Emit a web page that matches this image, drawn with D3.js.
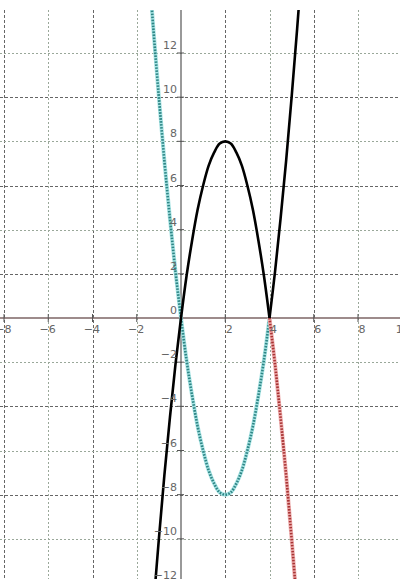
<!DOCTYPE html>
<html>
<head>
<meta charset="utf-8">
<script src="https://cdn.jsdelivr.net/npm/d3@7"></script>
<style>
html,body{margin:0;padding:0;background:#fff;}
svg{display:block;}
</style>
</head>
<body>
<svg id="chart" width="400" height="579"></svg>
<script>
// ---- data ----
const xTicks = [-8, -6, -4, -2, 0, 2, 4, 6, 8, 10];
const yTicks = [12, 10, 8, 6, 4, 2, 0, -2, -4, -6, -8, -10, -12];

// black solid curve, left branch (to the cusp at x=4)
const blackLeftX = [-1.25, -1, -0.75, -0.5, -0.25, 0, 0.25, 0.5, 0.75, 1, 1.25, 1.5, 1.75, 2, 2.25, 2.5, 2.75, 3, 3.25, 3.5, 3.75, 4];
const blackLeftY = [-13.1, -10, -7.1, -4.5, -2.1, 0, 1.9, 3.5, 4.9, 6, 6.9, 7.5, 7.9, 8, 7.9, 7.5, 6.9, 6, 4.9, 3.5, 1.9, 0];
// black solid curve, right branch
const blackRightX = [4, 4.25, 4.5, 4.75, 5, 5.25, 5.5];
const blackRightY = [0, 2.1, 4.5, 7.1, 10, 13.1, 16.5];
// teal dotted curve
const tealX = [-1.5, -1.25, -1, -0.75, -0.5, -0.25, 0, 0.25, 0.5, 0.75, 1, 1.25, 1.5, 1.75, 2, 2.25, 2.5, 2.75, 3, 3.25, 3.5, 3.75, 4];
const tealY = [16.5, 13.1, 10, 7.1, 4.5, 2.1, 0, -1.9, -3.5, -4.9, -6, -6.9, -7.5, -7.9, -8, -7.9, -7.5, -6.9, -6, -4.9, -3.5, -1.9, 0];
// red dotted curve
const redX = [4, 4.25, 4.5, 4.75, 5, 5.25, 5.5];
const redY = [0, -2.1, -4.5, -7.1, -10, -13.1, -16.5];

// ---- layout ----
const W = 400, H = 579, plotTop = 10;
const svg = d3.select("#chart");
const x = d3.scaleLinear().domain([-8, 8]).range([4, 358]);
const y = d3.scaleLinear().domain([-12, 12]).range([583, 53]);

svg.append("rect").attr("width", W).attr("height", H).attr("fill", "#fff");
svg.append("defs").append("clipPath").attr("id", "plot")
  .append("rect").attr("x", 0).attr("y", plotTop).attr("width", W).attr("height", H - plotTop);

const g = svg.append("g").attr("clip-path", "url(#plot)");

// grid
const vGrid = xTicks.filter(d => d !== 0);
const hGrid = yTicks.filter(d => d !== 0);
g.selectAll(".vg").data(vGrid).enter().append("line")
  .attr("x1", d => Math.round(x(d)) + 0.5).attr("x2", d => Math.round(x(d)) + 0.5)
  .attr("y1", plotTop).attr("y2", H)
  .attr("stroke", (d, i) => i % 2 === 0 ? "#666" : "#9aa89a")
  .attr("stroke-dasharray", (d, i) => i % 2 === 0 ? "3,2" : "2,2")
  .attr("stroke-width", 1);
g.selectAll(".hg").data(hGrid).enter().append("line")
  .attr("y1", d => Math.round(y(d)) + 0.5).attr("y2", d => Math.round(y(d)) + 0.5)
  .attr("x1", 0).attr("x2", W)
  .attr("stroke", (d, i) => i % 2 === 1 ? "#666" : "#9aa89a")
  .attr("stroke-dasharray", (d, i) => i % 2 === 1 ? "3,2" : "2,2")
  .attr("stroke-width", 1);

// axes lines
g.append("line").attr("x1", 0).attr("x2", W)
  .attr("y1", y(0)).attr("y2", y(0))
  .attr("stroke", "#7d6464").attr("stroke-width", 1.5);
g.append("line").attr("x1", x(0)).attr("x2", x(0))
  .attr("y1", plotTop).attr("y2", H)
  .attr("stroke", "#555").attr("stroke-width", 1.2);

// tick marks
g.selectAll(".xt").data(vGrid).enter().append("line")
  .attr("x1", d => x(d)).attr("x2", d => x(d))
  .attr("y1", y(0) - 4).attr("y2", y(0) + 4)
  .attr("stroke", "#555").attr("stroke-width", 1);
g.selectAll(".yt").data(hGrid).enter().append("line")
  .attr("y1", d => y(d)).attr("y2", d => y(d))
  .attr("x1", x(0) - 4).attr("x2", x(0) + 3)
  .attr("stroke", "#555").attr("stroke-width", 1);

// curves
const line = d3.line().x(d => x(d[0])).y(d => y(d[1])).curve(d3.curveCatmullRom);
const pts = (xs, ys) => xs.map((v, i) => [v, ys[i]]);

// teal dotted (halo + dots)
g.append("path").attr("d", line(pts(tealX, tealY)))
  .attr("fill", "none").attr("stroke", "#a8e4e4").attr("stroke-width", 4);
g.append("path").attr("d", line(pts(tealX, tealY)))
  .attr("fill", "none").attr("stroke", "#2e8585").attr("stroke-width", 2.6)
  .attr("stroke-dasharray", "1.6,1.4");
// red dotted
g.append("path").attr("d", line(pts(redX, redY)))
  .attr("fill", "none").attr("stroke", "#efb0b0").attr("stroke-width", 4);
g.append("path").attr("d", line(pts(redX, redY)))
  .attr("fill", "none").attr("stroke", "#a83434").attr("stroke-width", 2.6)
  .attr("stroke-dasharray", "1.6,1.4");
// black solid
g.append("path").attr("d", line(pts(blackLeftX, blackLeftY)))
  .attr("fill", "none").attr("stroke", "#000").attr("stroke-width", 2.6);
g.append("path").attr("d", line(pts(blackRightX, blackRightY)))
  .attr("fill", "none").attr("stroke", "#000").attr("stroke-width", 2.6);

// labels
const font = "'DejaVu Sans', Verdana, sans-serif";
svg.selectAll(".xl").data(xTicks.filter(d => d !== 0)).enter().append("text")
  .attr("x", d => x(d) + 7.5).attr("y", y(0) + 15)
  .attr("text-anchor", "end")
  .attr("font-family", font).attr("font-size", 11).attr("fill", "#666")
  .text(d => d < 0 ? "\u2212" + Math.abs(d) : String(d));
svg.selectAll(".yl").data(yTicks).enter().append("text")
  .attr("x", x(0) - 4).attr("y", d => y(d) - 4)
  .attr("text-anchor", "end")
  .attr("font-family", font).attr("font-size", 11).attr("fill", "#666")
  .text(d => d < 0 ? "\u2212" + Math.abs(d) : String(d));
</script>
</body>
</html>
